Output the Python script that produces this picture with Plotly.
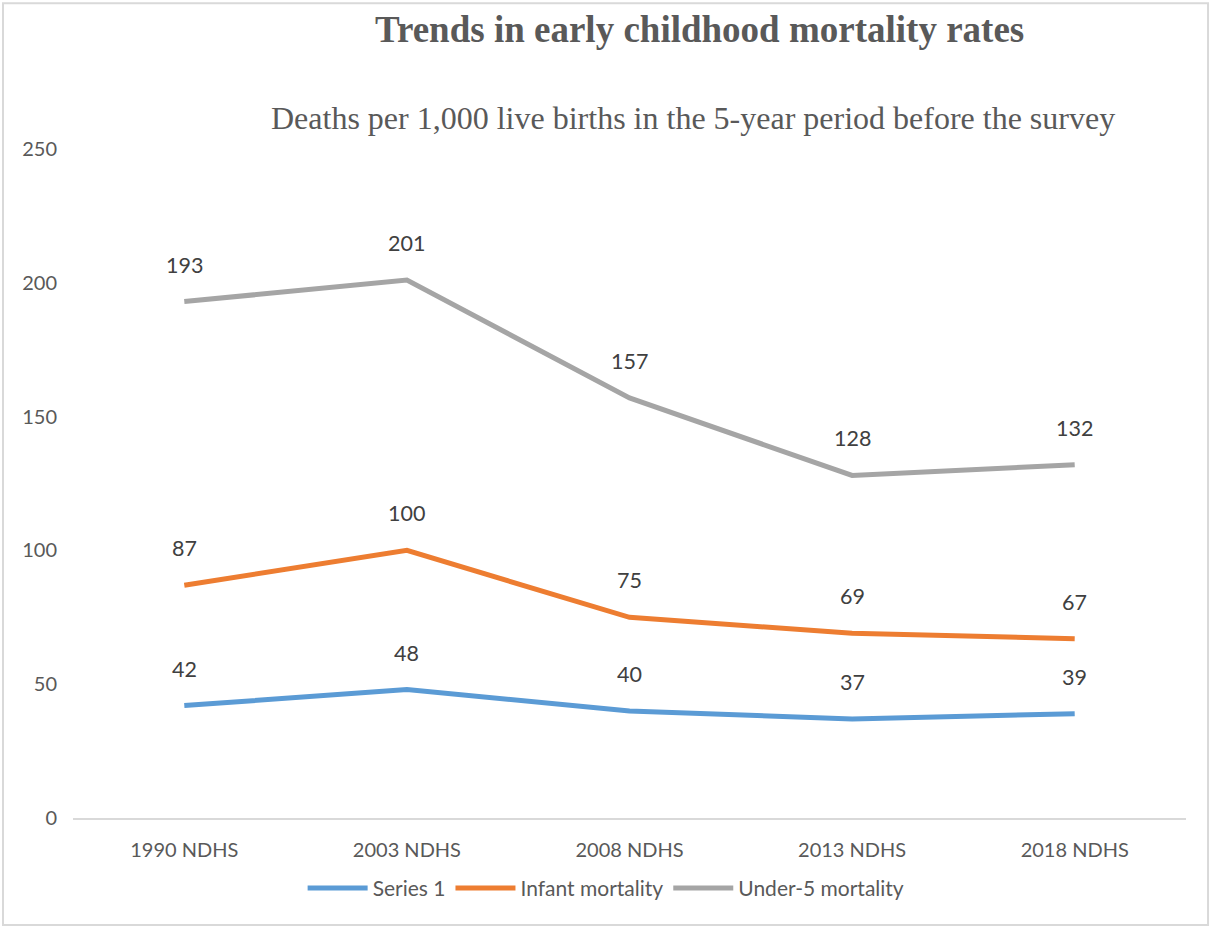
import plotly.graph_objects as go

categories = ["1990 NDHS", "2003 NDHS", "2008 NDHS", "2013 NDHS", "2018 NDHS"]
series1 = [42, 48, 40, 37, 39]
infant = [87, 100, 75, 69, 67]
under5 = [193, 201, 157, 128, 132]

names = ["Series 1", "Infant mortality", "Under-5 mortality"]
colors = ["#5B9BD5", "#ED7D31", "#A5A5A5"]
all_series = [series1, infant, under5]

fig = go.Figure()
for name, vals, col in zip(names, all_series, colors):
    fig.add_trace(go.Scatter(x=categories, y=vals, mode="lines", name=name,
                             line=dict(color=col, width=5)))
    for c, v in zip(categories, vals):
        fig.add_annotation(x=c, y=v, text=str(v), showarrow=False, yshift=37,
                           font=dict(family="Lato", size=21.5, color="#404040"))

fig.add_annotation(xref="paper", yref="paper", x=0.563, y=1.178, text="<b>Trends in early childhood mortality rates</b>",
                   showarrow=False, font=dict(family="Liberation Serif", size=37, color="#595959"),
                   xanchor="center", yanchor="middle")
fig.add_annotation(xref="paper", yref="paper", x=0.557, y=1.046,
                   text="Deaths per 1,000 live births in the 5-year period before the survey",
                   showarrow=False, font=dict(family="Liberation Serif", size=32, color="#595959"),
                   xanchor="center", yanchor="middle")

fig.add_shape(type="rect", xref="paper", yref="paper", x0=-0.0629, x1=1.0198, y0=-0.16, y1=1.218,
              line=dict(color="#D9D9D9", width=2), layer="below")

fig.update_layout(
    width=1212, height=927,
    margin=dict(l=73, r=26, t=149, b=109),
    paper_bgcolor="white", plot_bgcolor="white",
    showlegend=True,
    legend=dict(orientation="h", x=0.479, y=-0.105, xanchor="center", yanchor="middle",
                font=dict(family="Lato", size=21, color="#595959"), itemwidth=60,
                tracegroupgap=0, itemclick=False),
    xaxis=dict(range=[-0.5, 4.5], showgrid=False, showline=True, linecolor="#D9D9D9", linewidth=2,
               ticks="", tickfont=dict(family="Lato", size=20, color="#595959"),
               ticklabelstandoff=13, zeroline=False),
    yaxis=dict(range=[0, 250], dtick=50, showgrid=False, showline=False, zeroline=False,
               tickfont=dict(family="Lato", size=20, color="#595959"), ticklabelstandoff=15),
)

fig.write_html("out.html")
